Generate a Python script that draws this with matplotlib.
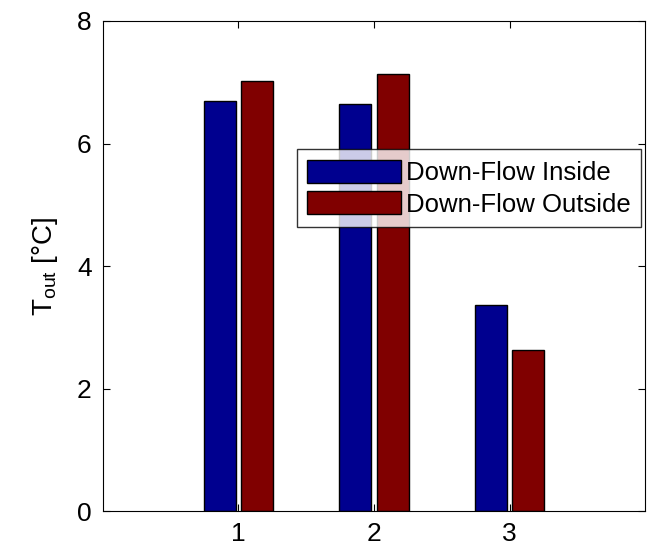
import numpy as np
import matplotlib
matplotlib.use("Agg")
import matplotlib.pyplot as plt

plt.rcParams['font.family'] = ['Liberation Sans', 'DejaVu Sans']
plt.rcParams['mathtext.default'] = 'regular'

cases = [1, 2, 3]
inside = [6.70, 6.64, 3.36]
outside = [7.02, 7.13, 2.63]
labels = ['Down-Flow Inside', 'Down-Flow Outside']

fig = plt.figure(figsize=(6.59, 5.52), dpi=100)
ax = fig.add_axes([0.156, 0.074, 0.823, 0.888])

x = np.array(cases)
w = 0.235
ax.bar(x - 0.138, inside, w, color='#00008f', edgecolor='black', linewidth=1.0, label=labels[0])
ax.bar(x + 0.138, outside, w, color='#800000', edgecolor='black', linewidth=1.0, label=labels[1])

ax.set_xlim(0, 4)
ax.set_ylim(0, 8)
ax.set_xticks(cases)
ax.set_yticks([0, 2, 4, 6, 8])
ax.tick_params(direction='in', top=True, right=True, labelsize=19, length=5, pad=8)
ax.set_ylabel(r'T$_{out}$ [°C]', fontsize=20, labelpad=12)

leg = ax.legend(loc='upper left', bbox_to_anchor=(0.358, 0.738), borderaxespad=0,
                fontsize=18.5, frameon=True, fancybox=False, edgecolor='black',
                handlelength=3.65, handleheight=1.0, labelspacing=0.25,
                borderpad=0.4, handletextpad=0.2)
leg.get_frame().set_linewidth(1.0)

fig.savefig('out.png', dpi=100)
